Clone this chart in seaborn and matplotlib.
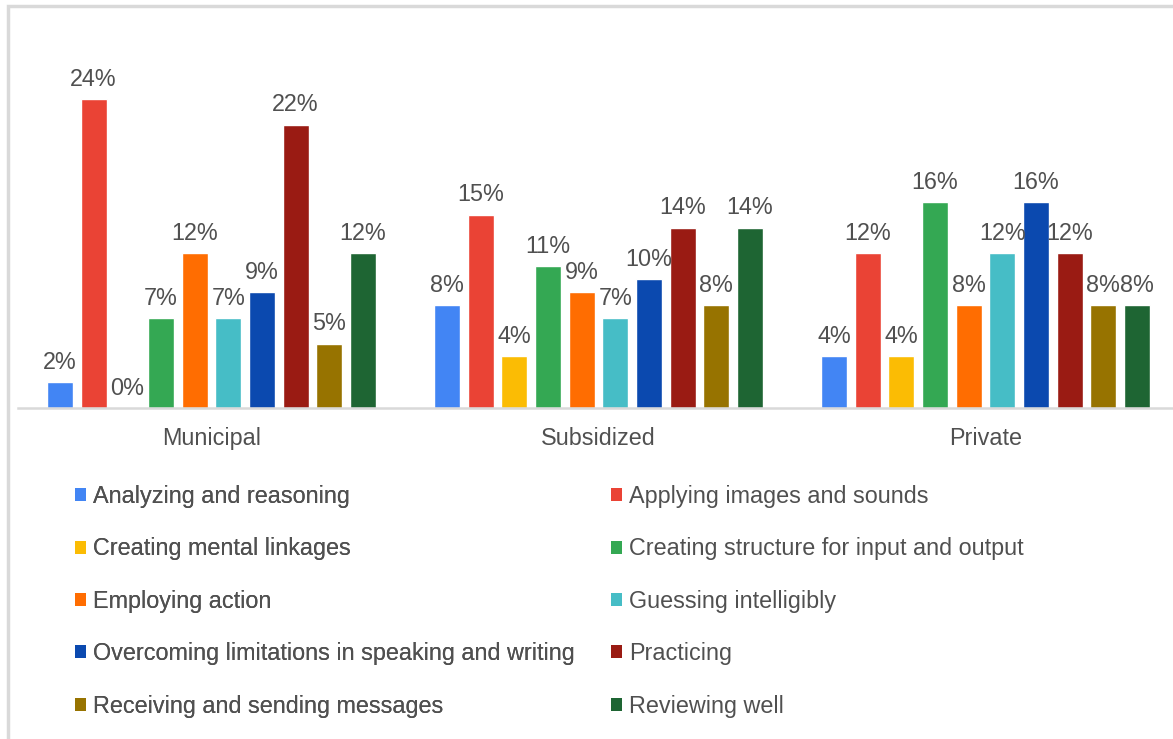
import pandas as pd
import matplotlib
matplotlib.use("Agg")
import matplotlib.pyplot as plt
import seaborn as sns
from matplotlib.patches import Patch, Rectangle

# Données
schools = ["Municipal", "Subsidized", "Private"]
strategies = [
    "Analyzing and reasoning",
    "Applying images and sounds",
    "Creating mental linkages",
    "Creating structure for input and output",
    "Employing action",
    "Guessing intelligibly",
    "Overcoming limitations in speaking and writing",
    "Practicing",
    "Receiving and sending messages",
    "Reviewing well",
]
municipal = [2, 24, 0, 7, 12, 7, 9, 22, 5, 12]
subsidized = [8, 15, 4, 11, 9, 7, 10, 14, 8, 14]
private = [4, 12, 4, 16, 8, 12, 16, 12, 8, 8]
colors = ["#4285F4", "#EA4335", "#FBBC04", "#34A853", "#FF6D01",
          "#46BDC6", "#0B49AF", "#9A1B13", "#977300", "#1E6533"]

rows = []
for school, vals in zip(schools, [municipal, subsidized, private]):
    for strat, v in zip(strategies, vals):
        rows.append({"school": school, "strategy": strat, "pct": v})
df = pd.DataFrame(rows)

sns.set_style("white")
plt.rcParams["font.family"] = ["Liberation Sans", "DejaVu Sans"]
text_color = "#505050"
fs = 16.8

fig = plt.figure(figsize=(11.73, 7.39), dpi=100)
ax = fig.add_axes([18 / 1173, 1 - 408 / 739, 1161 / 1173, 322 / 739])

sns.barplot(data=df, x="school", y="pct", hue="strategy", order=schools,
            hue_order=strategies, palette=colors, width=0.87, gap=0.23,
            saturation=1, legend=False, ax=ax)

for cont in ax.containers:
    ax.bar_label(cont, labels=[f"{v:.0f}%" for v in cont.datavalues],
                 padding=6, fontsize=fs, color=text_color)

ax.set_ylim(0, 25)
ax.set_xlim(-0.5, 2.5)
ax.set_xlabel("")
ax.set_ylabel("")
ax.set_yticks([])
ax.tick_params(axis="x", length=0, pad=14, labelsize=fs, labelcolor=text_color)
for s in ["top", "right", "left"]:
    ax.spines[s].set_visible(False)
ax.spines["bottom"].set_color("#d9d9d9")
ax.spines["bottom"].set_linewidth(1.8)

# Légende en deux colonnes
handles = [Patch(facecolor=c, edgecolor="none", label=s) for s, c in zip(strategies, colors)]
leg_kw = dict(frameon=False, fontsize=fs, handlelength=0.47, handleheight=0.47,
              handletextpad=0.3, labelspacing=1.26, labelcolor=text_color,
              loc="upper left", borderaxespad=0, borderpad=0)
leg1 = fig.legend(handles=handles[0::2], bbox_to_anchor=(75 / 1173, 1 - 485 / 739), **leg_kw)
fig.add_artist(leg1)
fig.legend(handles=handles[1::2], bbox_to_anchor=(611 / 1173, 1 - 485 / 739), **leg_kw)

# Cadre gris
fig.add_artist(Rectangle((8 / 1173, -0.1), 1.2, 1 - 6 / 739 + 0.1, transform=fig.transFigure,
                         fill=False, edgecolor="#d9d9d9", linewidth=2.5))

fig.savefig("out.png", dpi=100, facecolor="white")
